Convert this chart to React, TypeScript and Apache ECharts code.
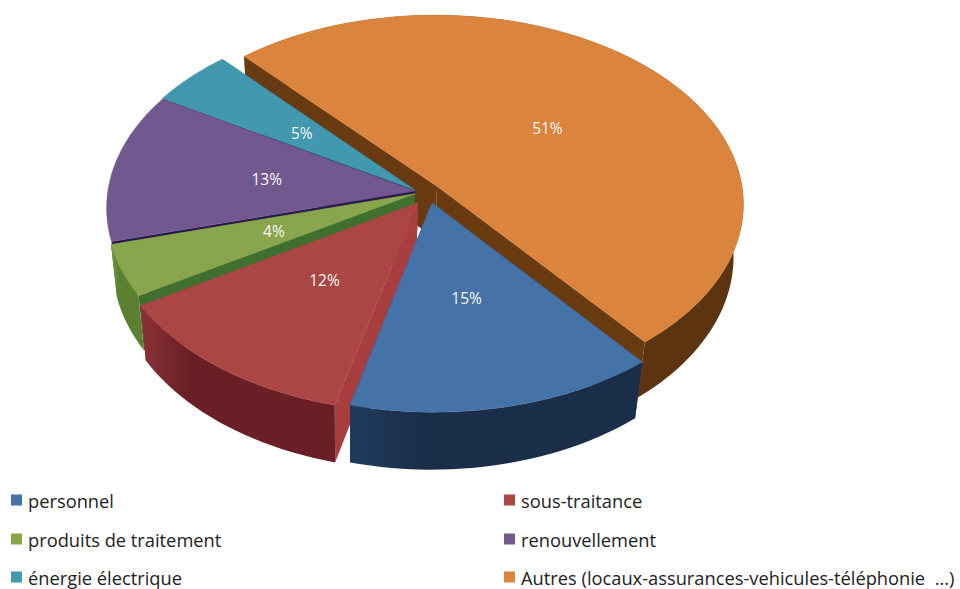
import React, { useEffect, useRef } from "react";
import * as echarts from "echarts";

const CATEGORIES = ["personnel", "sous-traitance", "produits de traitement", "renouvellement", "énergie électrique", "Autres (locaux-assurances-vehicules-téléphonie  ...)"];
const VALUES = [14.85, 12.45, 4.4, 12.8, 4.8, 51];
const TOP_COLORS = ["#4572A7", "#AA4643", "#89A54E", "#71588F", "#4198AF", "#DB843D"];
const WALL_LIGHT = ["#203a5e", "#8a3236", "#6f9a3c", "#3a2660", "#1a5f78", "#6a3c14"];
const WALL_DARK = ["#1a2e4a", "#6a1f26", "#5a8030", "#2a1a4a", "#0e4a60", "#5c3410"];
const RADIAL_WALLS = ["#1a2e4a", "#a83e40", "#3f7030", "#2a1a4a", "#0f4a60", "#6a3a10"];
const SLICE_SHIFT_X = [0.055, 0.01, 0, 0, 0, 0.072];
const SLICE_SHIFT_Y = [0.068, 0.068, 0.02, 0.005, 0, -0.02];
const SLICE_RADIUS = [1, 1, 1, 1, 1, 0.995];
const SHOW_RIM = [true, true, true, false, false, true];
const DRAW_ORDER = [5, 4, 3, 2, 1, 0];
const START_ANGLE = 51;

const CX = 415, CY = 190, R = 307, KR = 188, P = 0.09, H = 52, VX = 350, Q = 0.025;
const FONT = "'Open Sans', Lato, sans-serif";

function project(X: number, Y: number, Z: number): number[] {
  const s = 1 / (1 - P * Y);
  const x0 = CX + R * X * s;
  return [VX + (x0 - VX) * (1 - Q * Z), CY + KR * Y * s + H * Z * s];
}

const total = VALUES.reduce((a, b) => a + b, 0);
function sliceAngles(i: number): [number, number] {
  let a = START_ANGLE;
  for (let k = 0; k < i; k++) a += (VALUES[k] / total) * 360;
  return [a, a + (VALUES[i] / total) * 360];
}

function renderSlice(params: any, api: any) {
  const i = DRAW_ORDER[params.dataIndex];
  const [a0, a1] = sliceAngles(i);
  const ex = SLICE_SHIFT_X[i], ey = SLICE_SHIFT_Y[i], rad = SLICE_RADIUS[i];
  const rim = (Z: number) => {
    const pts: number[][] = [];
    const n = Math.max(4, Math.ceil((a1 - a0) / 2));
    for (let k = 0; k <= n; k++) {
      const a = ((a0 + ((a1 - a0) * k) / n) * Math.PI) / 180;
      pts.push(project(ex + rad * Math.cos(a), ey + rad * Math.sin(a), Z));
    }
    return pts;
  };
  const top = rim(0), bottom = rim(1);
  const apexTop = project(ex, ey, 0), apexBottom = project(ex, ey, 1);
  const mid = (((a0 + a1) / 2) * Math.PI) / 180;
  const label = project(ex + 0.49 * Math.cos(mid), ey + 0.49 * Math.sin(mid), 0);
  const radial = RADIAL_WALLS[i];
  const wallFill = new echarts.graphic.LinearGradient(0, 0, 1, 0, [
    { offset: 0, color: WALL_LIGHT[i] },
    { offset: 0.25, color: WALL_DARK[i] },
    { offset: 1, color: WALL_DARK[i] },
  ]);
  const children: any[] = [
    { type: "polygon", shape: { points: [apexTop, top[0], bottom[0], apexBottom] }, style: { fill: radial } },
    { type: "polygon", shape: { points: [apexTop, top[top.length - 1], bottom[bottom.length - 1], apexBottom] }, style: { fill: radial } },
  ];
  if (SHOW_RIM[i]) {
    children.push({ type: "polygon", shape: { points: [...top, ...bottom.slice().reverse()] }, style: { fill: wallFill } });
  }
  children.push({ type: "polygon", shape: { points: [apexTop, ...top] }, style: { fill: TOP_COLORS[i], stroke: TOP_COLORS[i], lineWidth: 0.5 } });
  children.push({
    type: "text",
    style: {
      text: Math.round(api.value(0)) + "%",
      x: label[0],
      y: label[1],
      fill: "#f6f6f6",
      fontSize: 15.5,
      fontFamily: FONT,
      align: "center",
      verticalAlign: "middle",
    },
  });
  return { type: "group", children };
}

const LEGEND_X = [11, 504];
const LEGEND_Y = [500, 539, 577];

function legendGraphics() {
  const out: any[] = [];
  CATEGORIES.forEach((name, i) => {
    const col = i % 2, row = Math.floor(i / 2);
    const x = LEGEND_X[col], y = LEGEND_Y[row];
    out.push({ type: "rect", shape: { x, y: y - 5.5, width: 11, height: 11 }, style: { fill: TOP_COLORS[i] } });
    out.push({
      type: "text",
      style: { text: name, x: x + 17, y, fill: "#222", fontSize: 18.3, fontFamily: FONT, align: "left", verticalAlign: "middle" },
    });
  });
  return out;
}

export default function App() {
  const ref = useRef<HTMLDivElement>(null);
  useEffect(() => {
    const chart = echarts.init(ref.current!, undefined, { renderer: "svg" });
    chart.setOption({
      animation: false,
      backgroundColor: "#ffffff",
      series: [
        {
          type: "custom",
          coordinateSystem: "none",
          renderItem: renderSlice,
          data: DRAW_ORDER.map((i) => ({ name: CATEGORIES[i], value: [VALUES[i]] })),
        },
      ],
      graphic: legendGraphics(),
    });
    return () => chart.dispose();
  }, []);
  return <div ref={ref} style={{ position: "fixed", left: 0, top: 0, width: 960, height: 589 }} />;
}
